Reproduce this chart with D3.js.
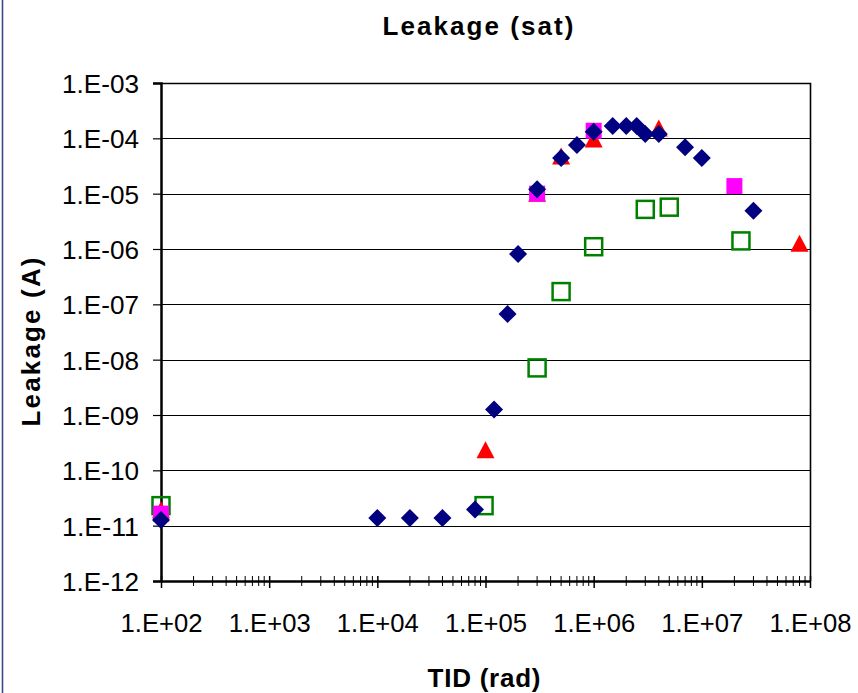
<!DOCTYPE html>
<html><head><meta charset="utf-8">
<script src="https://cdn.jsdelivr.net/npm/d3@7"></script>
<style>body{margin:0;background:#fff}svg{display:block}text{font-family:"Liberation Sans",Arial,sans-serif}</style>
</head><body>
<script>
const title = "Leakage (sat)";
const xTitle = "TID (rad)";
const yTitle = "Leakage (A)";
const xTickValues = [1e2,1e3,1e4,1e5,1e6,1e7,1e8];
const xTickLabels = ["1.E+02","1.E+03","1.E+04","1.E+05","1.E+06","1.E+07","1.E+08"];
const yTickValues = [1e-12,1e-11,1e-10,1e-9,1e-8,1e-7,1e-6,1e-5,1e-4,1e-3];
const yTickLabels = ["1.E-12","1.E-11","1.E-10","1.E-09","1.E-08","1.E-07","1.E-06","1.E-05","1.E-04","1.E-03"];

const greenX = [1e2, 9.7e4, 3e5, 5e5, 1e6, 3e6, 5e6, 2.3e7];
const greenY = [2.3e-11, 2.3e-11, 7.1e-9, 1.7e-7, 1.1e-6, 5.2e-6, 5.7e-6, 1.4e-6];
const redX = [1e2, 1e5, 3e5, 5e5, 1e6, 4e6, 8e7];
const redY = [1.9e-11, 2.3e-10, 1.0e-5, 4.7e-5, 9.5e-5, 1.5e-4, 1.25e-6];
const magentaX = [1e2, 3e5, 1e6, 2e7];
const magentaY = [1.65e-11, 1.0e-5, 1.37e-4, 1.37e-5];
const blueX = [1e2, 1e4, 2e4, 4e4, 8e4, 1.2e5, 1.6e5, 2e5, 3e5, 5e5, 7e5, 1e6, 1.5e6, 2e6, 2.5e6, 3e6, 4e6, 7e6, 1e7, 3e7];
const blueY = [1.26e-11, 1.38e-11, 1.38e-11, 1.38e-11, 1.95e-11, 1.26e-9, 6.7e-8, 8.1e-7, 1.2e-5, 4.4e-5, 7.6e-5, 1.32e-4, 1.67e-4, 1.67e-4, 1.67e-4, 1.2e-4, 1.2e-4, 6.9e-5, 4.4e-5, 4.9e-6];

const W = 858, H = 693;
const L = 161, R = 810, T = 83, B = 581;
const svg = d3.select("body").append("svg").attr("width", W).attr("height", H);
svg.append("rect").attr("width", W).attr("height", H).attr("fill", "#fff");
svg.append("line").attr("x1",2.5).attr("x2",2.5).attr("y1",0).attr("y2",H).attr("stroke","#3c4a86").attr("stroke-width",1.6);

const x = d3.scaleLog().domain([1e2,1e8]).range([L,R]);
const y = d3.scaleLog().domain([1e-12,1e-3]).range([B,T]);

// gridlines
svg.append("g").selectAll("line").data(yTickValues.slice(1)).join("line")
  .attr("x1", L).attr("x2", R).attr("y1", d=>Math.round(y(d))+0.5).attr("y2", d=>Math.round(y(d))+0.5)
  .attr("stroke", "#000").attr("stroke-width", 1);
// plot border (top/right)
svg.append("path").attr("d", `M${L},${T+0.5}H${R+0.5}V${B}`).attr("fill","none").attr("stroke","#000").attr("stroke-width",1.6);

// y axis
const yAxis = d3.axisLeft(y).tickValues(yTickValues).tickFormat((d,i)=>yTickLabels[i]).tickSize(8).tickPadding(14);
const gy = svg.append("g").attr("transform", `translate(${L},0)`).call(yAxis);
gy.select(".domain").attr("stroke-width", 2.5);
gy.selectAll(".tick line").attr("stroke-width", 1.2);
gy.selectAll("text").attr("font-size", 26).attr("fill", "#000").attr("dy","0.36em").attr("textLength", 77).attr("lengthAdjust","spacingAndGlyphs");

// x minor ticks
const minor = [];
for (let e = 2; e < 8; e++) for (let m = 2; m <= 9; m++) minor.push(m * Math.pow(10, e));
svg.append("g").selectAll("line").data(minor).join("line")
  .attr("x1", d=>x(d)).attr("x2", d=>x(d)).attr("y1", B-5).attr("y2", B+5)
  .attr("stroke", "#000").attr("stroke-width", 1);
// x axis
const xAxis = d3.axisBottom(x).tickValues(xTickValues).tickFormat((d,i)=>xTickLabels[i]).tickSizeInner(7).tickSizeOuter(0);
const gx = svg.append("g").attr("transform", `translate(0,${B})`).call(xAxis);
gx.select(".domain").attr("stroke-width", 2.5);
gx.selectAll(".tick line").attr("y1", -5).attr("y2", 7).attr("stroke-width", 1.5);
gx.selectAll("text").attr("font-size", 26).attr("fill", "#000").attr("y", 51).attr("dy", 0).attr("textLength", 82).attr("lengthAdjust","spacingAndGlyphs");

// series
const green = greenX.map((v,i)=>[v, greenY[i]]);
const red = redX.map((v,i)=>[v, redY[i]]);
const mag = magentaX.map((v,i)=>[v, magentaY[i]]);
const blue = blueX.map((v,i)=>[v, blueY[i]]);

svg.append("g").selectAll("rect").data(green).join("rect")
  .attr("x", d=>x(d[0])-8.5).attr("y", d=>y(d[1])-8.5).attr("width", 17).attr("height", 17)
  .attr("fill", "none").attr("stroke", "#008000").attr("stroke-width", 2.5);
svg.append("g").selectAll("path").data(red).join("path")
  .attr("d", d=>{const cx=x(d[0]), cy=y(d[1]); return `M${cx},${cy-9}L${cx+9},${cy+8}L${cx-9},${cy+8}Z`;})
  .attr("fill", "#ff0000");
svg.append("g").selectAll("rect").data(mag).join("rect")
  .attr("x", d=>x(d[0])-8).attr("y", d=>y(d[1])-8).attr("width", 16).attr("height", 16)
  .attr("fill", "#ff00ff");
svg.append("g").selectAll("path").data(blue).join("path")
  .attr("d", d=>{const cx=x(d[0]), cy=y(d[1]); return `M${cx},${cy-9}L${cx+9},${cy}L${cx},${cy+9}L${cx-9},${cy}Z`;})
  .attr("fill", "#000080");

// titles
svg.append("text").attr("x", 478).attr("y", 35).attr("text-anchor","middle")
  .attr("font-size", 26).attr("font-weight","bold").attr("textLength", 191).attr("lengthAdjust","spacing").text(title);
svg.append("text").attr("x", 484).attr("y", 687).attr("text-anchor","middle")
  .attr("font-size", 26).attr("font-weight","bold").attr("textLength", 113).attr("lengthAdjust","spacing").text(xTitle);
svg.append("text").attr("transform", "translate(40,342) rotate(-90)").attr("text-anchor","middle")
  .attr("font-size", 26).attr("font-weight","bold").attr("textLength", 169).attr("lengthAdjust","spacing").text(yTitle);
</script>
</body></html>
